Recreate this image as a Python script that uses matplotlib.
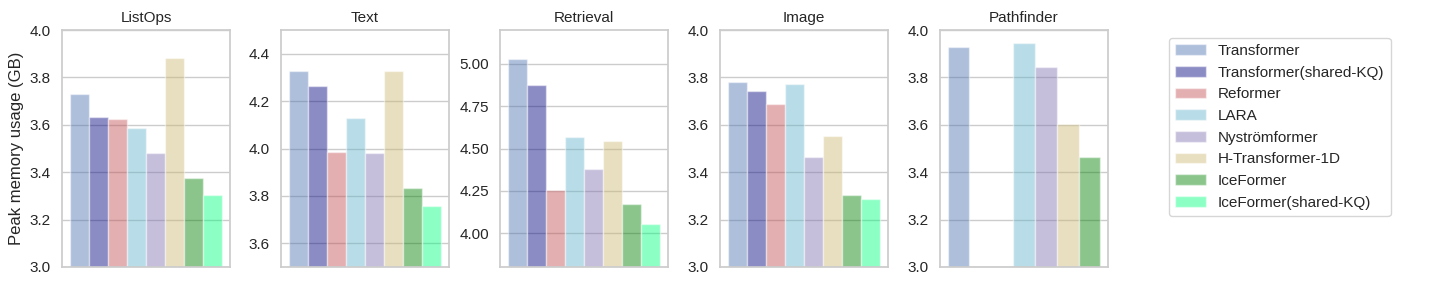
import numpy as np
import matplotlib
matplotlib.use("Agg")
import matplotlib.pyplot as plt
import seaborn as sns

sns.set_theme(style="whitegrid")
plt.rcParams['font.family'] = ['Liberation Sans', 'DejaVu Sans']

methods = ["Transformer", "Transformer(shared-KQ)", "Reformer", "LARA",
           "Nyströmformer", "H-Transformer-1D", "IceFormer", "IceFormer(shared-KQ)"]
colors = ["#4c72b0", "#000080", "#c44e52", "#64b5cd",
          "#8172b2", "#ccb974", "#008000", "#00ff7f"]

tasks = ["ListOps", "Text", "Retrieval", "Image", "Pathfinder"]

listops = [3.73, 3.632, 3.623, 3.585, 3.48, 3.88, 3.374, 3.305]
text = [4.327, 4.263, 3.984, 4.128, 3.979, 4.327, 3.832, 3.757]
retrieval = [5.03, 4.875, 4.255, 4.567, 4.377, 4.545, 4.17, 4.052]
image = [3.78, 3.742, 3.687, 3.772, 3.463, 3.553, 3.303, 3.285]
pathfinder = [3.927, np.nan, np.nan, 3.945, 3.843, 3.603, 3.463, np.nan]

values = [listops, text, retrieval, image, pathfinder]
ylims = [(3.0, 4.0), (3.5, 4.5), (3.8, 5.2), (3.0, 4.0), (3.0, 4.0)]
yticks = [[3.0, 3.2, 3.4, 3.6, 3.8, 4.0],
          [3.6, 3.8, 4.0, 4.2, 4.4],
          [4.0, 4.25, 4.5, 4.75, 5.0],
          [3.0, 3.2, 3.4, 3.6, 3.8, 4.0],
          [3.0, 3.2, 3.4, 3.6, 3.8, 4.0]]
yfmt = ["%.1f", "%.1f", "%.2f", "%.1f", "%.1f"]

fig = plt.figure(figsize=(14.4, 2.88), dpi=100)
W, H = 1440, 288
lefts = [62, 281, 500, 720, 940]
aw = 168
top, bottom = 30, 267

handles = None
for i, (task, vals) in enumerate(zip(tasks, values)):
    ax = fig.add_axes([lefts[i] / W, (H - bottom) / H, aw / W, (bottom - top) / H])
    x = np.arange(len(methods))
    bars = ax.bar(x, vals, width=1.0, color=colors, alpha=0.45,
                  edgecolor="white", linewidth=1.0)
    if handles is None:
        handles = bars
    ax.set_ylim(*ylims[i])
    ax.set_yticks(yticks[i])
    ax.set_yticklabels([yfmt[i] % t for t in yticks[i]], fontsize=11)
    ax.set_xticks([])
    ax.set_title(task, fontsize=11)
    for s in ax.spines.values():
        s.set_color("#cccccc")
    ax.tick_params(axis="y", pad=2)
    if i == 0:
        ax.set_ylabel("Peak memory usage (GB)", fontsize=12)

fig.legend(handles, methods, loc="upper left",
           bbox_to_anchor=(1169 / W, 1 - 38 / H), borderaxespad=0.0,
           fontsize=11, frameon=True, labelspacing=0.5)

fig.savefig("out.png", dpi=100)
